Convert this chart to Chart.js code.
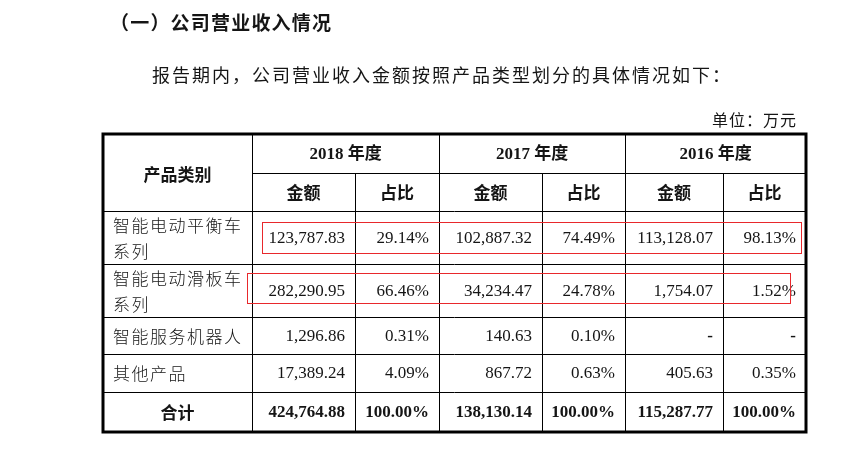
<!DOCTYPE html>
<html>
<head>
<meta charset="utf-8">
<script src="https://cdn.jsdelivr.net/npm/chart.js@4"></script>
<style>
  body { margin: 0; background: #fff; }
  canvas { display: block; }
</style>
</head>
<body>
<canvas id="tabla" width="842" height="451"></canvas>
<script>
// datos de la tabla
const titulo = '（一）公司营业收入情况';
const parrafo = '报告期内，公司营业收入金额按照产品类型划分的具体情况如下：';
const unidad = '单位：万元';
const cabeceraProducto = '产品类别';
const anios = ['2018 年度', '2017 年度', '2016 年度'];
const subCabeceras = ['金额', '占比'];
const categorias = [['智能电动平衡车', '系列'], ['智能电动滑板车', '系列'], ['智能服务机器人'], ['其他产品'], ['合计']];
const monto2018 = ['123,787.83', '282,290.95', '1,296.86', '17,389.24', '424,764.88'];
const ratio2018 = ['29.14%', '66.46%', '0.31%', '4.09%', '100.00%'];
const monto2017 = ['102,887.32', '34,234.47', '140.63', '867.72', '138,130.14'];
const ratio2017 = ['74.49%', '24.78%', '0.10%', '0.63%', '100.00%'];
const monto2016 = ['113,128.07', '1,754.07', '-', '405.63', '115,287.77'];
const ratio2016 = ['98.13%', '1.52%', '-', '0.35%', '100.00%'];

// layout (unidades de escala)
const anchoCols = [149, 103, 84, 103, 83, 98, 83];
const altoFilas = [39, 38, 53, 53, 37, 38, 40];
const marcasRojas = [
  { fila: 2, x0: 159, x1: 698, arriba: 11, abajo: 11 },
  { fila: 3, x0: 144, x1: 687, arriba: 9, abajo: 14 }
];

const acumular = arr => arr.reduce((acc, v) => { acc.push(acc[acc.length - 1] + v); return acc; }, [0]);
const bordesX = acumular(anchoCols);
const bordesY = acumular(altoFilas);

const SERIF = '"Liberation Serif", "Noto Sans CJK SC"';
const CJK = '"Noto Sans CJK SC"';
const COLOR = '#151515';

const pluginTabla = {
  id: 'pluginTabla',
  afterDraw(chart) {
    const ctx = chart.ctx;
    const sx = chart.scales.x, sy = chart.scales.y;
    const X = i => Math.round(sx.getPixelForValue(bordesX[i]));
    const Y = i => Math.round(sy.getPixelForValue(bordesY[i]));
    ctx.save();
    ctx.fillStyle = COLOR;
    ctx.textBaseline = 'middle';

    // textos de arriba
    ctx.font = 'bold 19px ' + CJK;
    ctx.letterSpacing = '1.2px';
    ctx.fillText(titulo, 110, 23);
    ctx.font = '18px ' + CJK;
    ctx.letterSpacing = '2px';
    ctx.fillText(parrafo, 152, 75);
    ctx.font = '16px ' + CJK;
    ctx.letterSpacing = '1px';
    ctx.fillText(unidad, 712, 120);
    ctx.letterSpacing = '0px';

    // lineas
    ctx.strokeStyle = '#000';
    ctx.lineWidth = 1;
    const linea = (x0, y0, x1, y1) => { ctx.beginPath(); ctx.moveTo(x0, y0); ctx.lineTo(x1, y1); ctx.stroke(); };
    const n = bordesX.length - 1, m = bordesY.length - 1;
    linea(X(1), Y(1) + 0.5, X(n), Y(1) + 0.5);
    for (let r = 2; r < m; r++) linea(X(0), Y(r) + 0.5, X(n), Y(r) + 0.5);
    [1, 3, 5].forEach(c => linea(X(c) + 0.5, Y(0), X(c) + 0.5, Y(m)));
    [2, 4, 6].forEach(c => linea(X(c) + 0.5, Y(1), X(c) + 0.5, Y(m)));
    ctx.lineWidth = 3;
    ctx.strokeRect(X(0), Y(0), X(n) - X(0), Y(m) - Y(0));

    // cabeceras
    const centroX = (a, b) => (X(a) + X(b)) / 2;
    const centroY = (a, b) => (Y(a) + Y(b)) / 2;
    ctx.textAlign = 'center';
    ctx.font = 'bold 17px ' + CJK;
    ctx.fillText(cabeceraProducto, centroX(0, 1), centroY(0, 2) + 2);
    ctx.font = 'bold 17px ' + SERIF;
    anios.forEach((a, i) => ctx.fillText(a, centroX(1 + 2 * i, 3 + 2 * i), centroY(0, 1) + 1));
    ctx.font = 'bold 17px ' + CJK;
    for (let c = 1; c < n; c++) ctx.fillText(subCabeceras[(c - 1) % 2], centroX(c, c + 1), centroY(1, 2) + 1);

    // filas de datos
    const columnas = [monto2018, ratio2018, monto2017, ratio2017, monto2016, ratio2016];
    categorias.forEach((cat, i) => {
      const fila = i + 2;
      const cy = centroY(fila, fila + 1) + 1;
      const total = i === categorias.length - 1;
      if (total) {
        ctx.textAlign = 'center';
        ctx.font = 'bold 17px ' + CJK;
        ctx.fillText(cat[0], centroX(0, 1), cy);
      } else {
        ctx.textAlign = 'left';
        ctx.font = '300 17px ' + CJK;
        ctx.letterSpacing = '1.5px';
        if (cat.length === 2) {
          ctx.fillText(cat[0], X(0) + 10, cy - 13);
          ctx.fillText(cat[1], X(0) + 10, cy + 13);
        } else {
          ctx.fillText(cat[0], X(0) + 10, cy);
        }
        ctx.letterSpacing = '0px';
      }
      ctx.textAlign = 'right';
      columnas.forEach((col, c) => {
        const v = col[i];
        ctx.font = (total || v === '-' ? 'bold ' : '') + '17px "Liberation Serif"';
        ctx.fillText(v, X(c + 2) - 10, cy);
      });
    });

    // recuadros rojos
    ctx.strokeStyle = '#e8282c';
    ctx.lineWidth = 1;
    marcasRojas.forEach(b => {
      const x0 = Math.round(sx.getPixelForValue(b.x0)) + 0.5;
      const x1 = Math.round(sx.getPixelForValue(b.x1)) + 0.5;
      const y0 = Y(b.fila) + b.arriba + 0.5;
      const y1 = Y(b.fila + 1) - b.abajo + 0.5;
      ctx.strokeRect(x0, y0, x1 - x0, y1 - y0);
    });
    ctx.restore();
  }
};

new Chart(document.getElementById('tabla'), {
  type: 'scatter',
  data: { datasets: [] },
  options: {
    responsive: false,
    animation: false,
    events: [],
    layout: { padding: { left: 103, top: 134, right: 36, bottom: 19 } },
    plugins: { legend: { display: false }, tooltip: { enabled: false } },
    scales: {
      x: { type: 'linear', display: false, min: 0, max: bordesX[bordesX.length - 1] },
      y: { type: 'linear', display: false, min: 0, max: bordesY[bordesY.length - 1], reverse: true }
    }
  },
  plugins: [pluginTabla]
});
</script>
</body>
</html>
